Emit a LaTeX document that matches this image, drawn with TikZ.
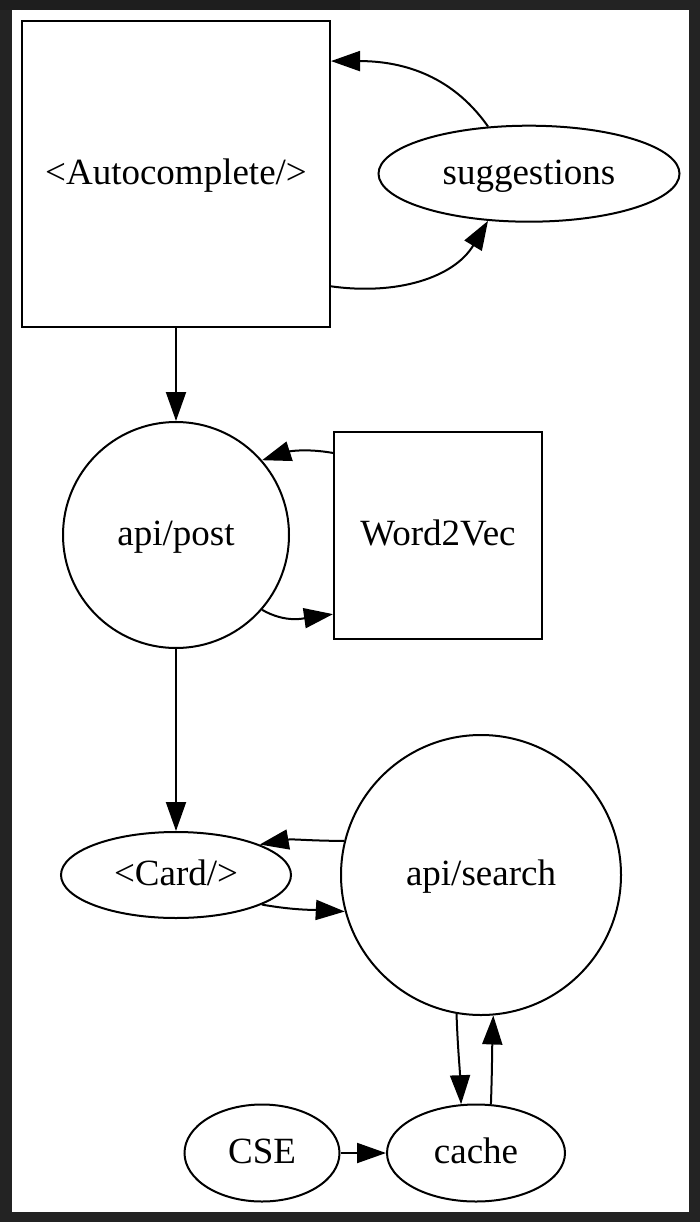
\documentclass[tikz,border=0pt]{standalone}
\usepackage{fontspec}
\setmainfont{Liberation Serif}
\usetikzlibrary{arrows.meta,positioning,shapes.geometric}

\definecolor{framegray}{HTML}{232323}
\definecolor{framedark}{HTML}{1E1E1E}

\tikzset{
  gv/.style={draw, line width=2pt, inner sep=0pt, font=\fontsize{37}{44}\selectfont,
    text height=30pt, text depth=9pt},
  box/.style={gv, rectangle},
  oval/.style={gv, ellipse},
  ball/.style={gv, circle},
}

\begin{document}
\begin{tikzpicture}[x=1pt, y=-1pt, line width=2pt, >={Triangle[length=29pt,width=20pt]}]
		% frame
		\fill[framegray] (0,0) rectangle (700,1222);
		\fill[framedark] (0,0) rectangle (360,10);
		\fill[white] (12,10) rectangle (689,1212);

		\node[box, minimum width=308pt, minimum height=306pt] (auto) at (176,173.7) {<Autocomplete/>};
		\node[oval, minimum width=301pt, minimum height=96pt, right=46.5pt of auto] (sug) {suggestions};

		\node[ball, minimum size=226pt] (post) at (176,535) {api/post};
		\node[box, minimum width=208pt, minimum height=207pt, right=43pt of post] (w2v) {Word2Vec};

		\node[oval, minimum width=230pt, minimum height=86pt] (card) at (176,875) {<Card/>};
		\node[ball, minimum size=280pt, right=48pt of card] (search) {api/search};

		\node[oval, minimum width=155pt, minimum height=97pt] (cse) at (262,1153) {CSE};
		\node[oval, minimum width=178pt, minimum height=97pt, right=45.5pt of cse] (cache) {cache};

		\path[->] (auto) edge (post);
		\path[->] (post) edge (card);
		\path[->] (cse) edge (cache);

		\path[->] 
		(sug.131) edge [out=125, in=0] (auto.36);
		\path[->] 
		(auto.-36) edge [out=-8, in=-121] (sug.-131);

		\path[->] 
		(w2v.142) edge [out=170, in=18] (post.41);
		\path[->] 
		(post.-41) edge [out=-30, in=-172] (w2v.-143);

		\path[->] 
		(search.166) edge [out=180, in=10] (card.20);
		\path[->] 
		(card.-19) edge [out=-10, in=177] (search.-165);

		\path[->] 
		(search.-100) edge [out=-88, in=92] (cache.107);
		\path[->] 
		(cache.73) edge [out=88, in=-92] (search.-85);
\end{tikzpicture}
\end{document}
